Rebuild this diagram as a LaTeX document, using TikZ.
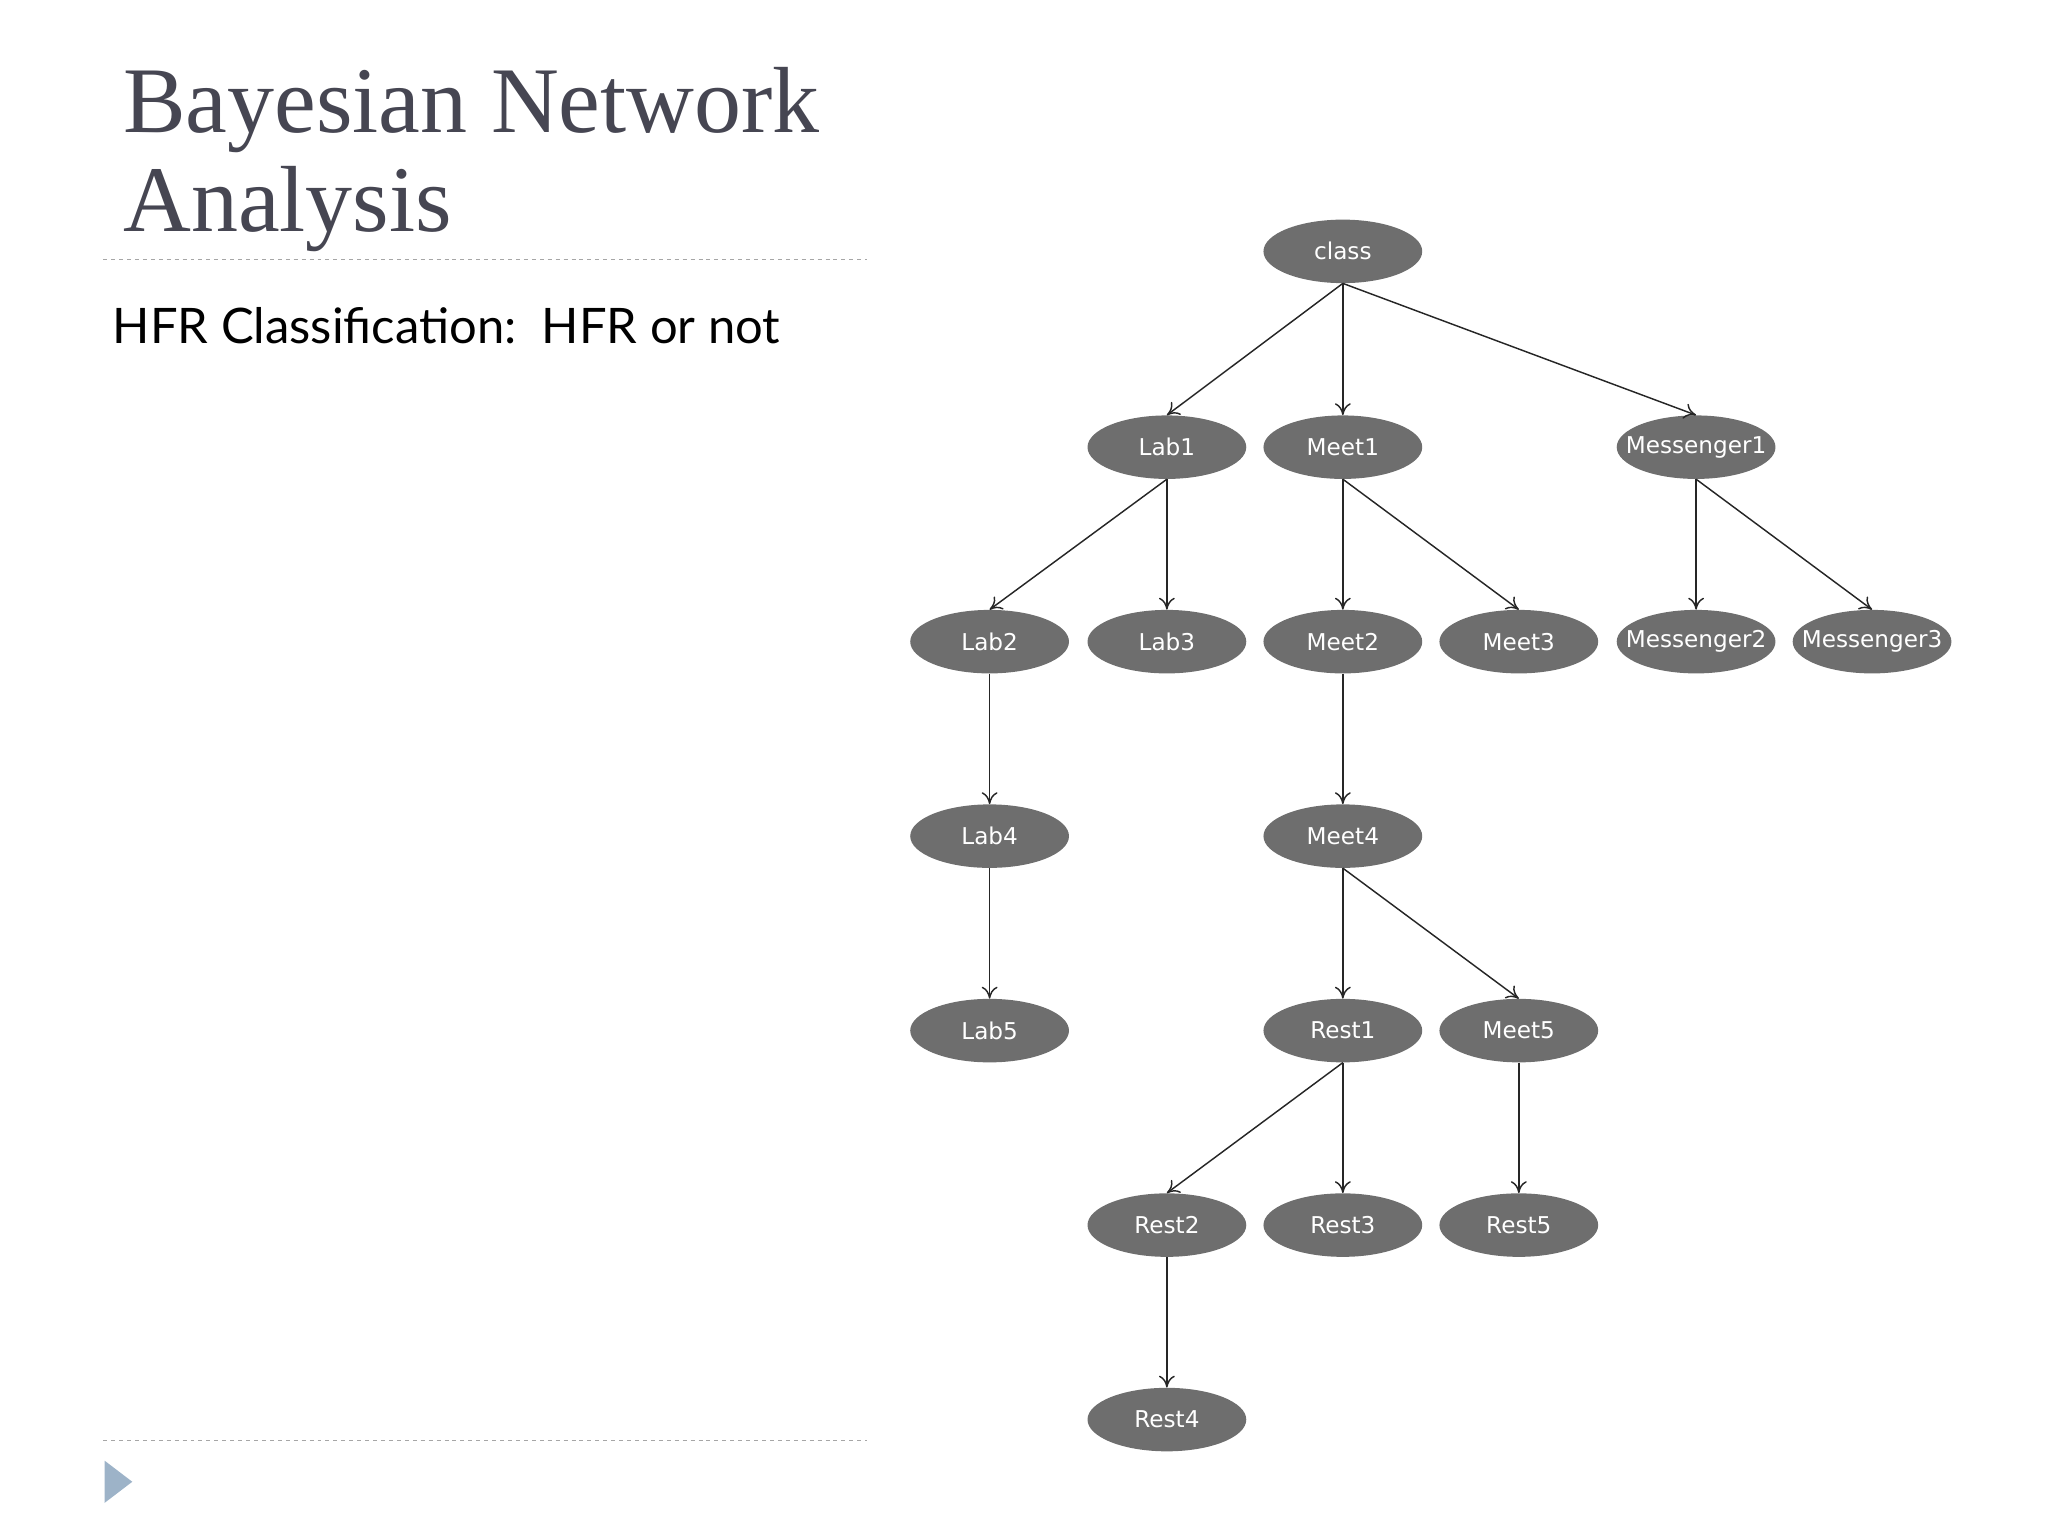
\documentclass[tikz,border=0pt]{standalone}
\usepackage{fontspec}
\setmainfont{Liberation Serif}
\newfontfamily\nodefont{DejaVu Sans}
\newfontfamily\subfont{Lato}
\usetikzlibrary{shapes.geometric,arrows.meta}
\definecolor{titlec}{RGB}{70,70,82}
\definecolor{tri}{RGB}{157,179,200}
\begin{document}
\begin{tikzpicture}[x=1pt,y=-1pt,
  bn/.style={ellipse,fill=black!57,minimum width=120pt,minimum height=48pt,inner sep=0pt},
  bnt/.style={text=white,inner sep=0pt,font=\nodefont\fontsize{17.5}{20}\selectfont},
  edge/.style={draw=black!85,line width=1.1pt,-{To[length=9pt,width=12pt]}}]
\useasboundingbox (0,0) rectangle (1548,1161);
\node[anchor=base west,text=titlec,font=\fontsize{71}{71}\selectfont,inner sep=0pt] (t1) at (93,100) {Bayesian Network};
\node[anchor=base west,text=titlec,font=\fontsize{71}{71}\selectfont,inner sep=0pt] (t2) at (93,175) {Analysis};
\draw[black!35,dashed,line width=1pt] (78,196) coordinate (d1) -- (655,196) coordinate (d2);
\draw[black!35,dashed,line width=1pt] (78,1089) coordinate (d3) -- (655,1089) coordinate (d4);
\node[anchor=base west,inner sep=0pt,font=\subfont\fontsize{37}{37}\selectfont] (sub) at (85,260) {HFR Classification:\ \ HFR or not};
\fill[tri] (79,1104) -- (100,1120) -- (79,1136) -- cycle;
\foreach \n/\x/\y in {class/1015/190,Lab1/882/338,Meet1/1015/338,Messenger1/1282/338,
 Lab2/748/485,Lab3/882/485,Meet2/1015/485,Meet3/1148/485,Messenger2/1282/485,Messenger3/1415/485,
 Lab4/748/632,Meet4/1015/632,Lab5/748/779,Rest1/1015/779,Meet5/1148/779,
 Rest2/882/926,Rest3/1015/926,Rest5/1148/926,Rest4/882/1073}
 {\node[bn] (\n) at (\x,\y) {};
  \node[bnt] (\n-t) at (\x,\y) {\n};}
\foreach \a/\b in {class/Lab1,class/Meet1,class/Messenger1,Lab1/Lab2,Lab1/Lab3,Meet1/Meet2,Meet1/Meet3,
 Messenger1/Messenger2,Messenger1/Messenger3,Lab2/Lab4,Lab4/Lab5,Meet2/Meet4,Meet4/Rest1,Meet4/Meet5,
 Rest1/Rest2,Rest1/Rest3,Meet5/Rest5,Rest2/Rest4}
 \draw[edge] (\a.south) -- (\b.north);
\end{tikzpicture}
\end{document}
